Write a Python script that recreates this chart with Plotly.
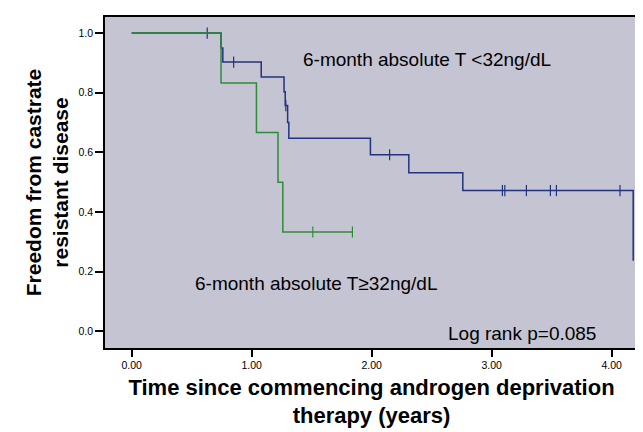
import plotly.graph_objects as go

# Kaplan-Meier steps
low_t = [0, 0.745, 0.76, 1.08, 1.27, 1.28, 1.30, 1.31, 1.99, 2.31, 2.76, 4.18]
low_s = [1.0, 0.95, 0.903, 0.853, 0.803, 0.757, 0.70, 0.647, 0.592, 0.532, 0.472, 0.237]
low_cens_t = [0.63, 0.85, 1.285, 2.15, 3.09, 3.11, 3.29, 3.49, 3.54, 4.07]
low_cens_s = [1.0, 0.903, 0.757, 0.592, 0.472, 0.472, 0.472, 0.472, 0.472, 0.472]

high_t = [0, 0.745, 1.04, 1.22, 1.26, 1.84]
high_s = [1.0, 0.833, 0.667, 0.5, 0.333, 0.333]
high_cens_t = [1.51, 1.84]
high_cens_s = [0.333, 0.333]

x_ticks = [0, 1, 2, 3, 4]
y_ticks = [0, 0.2, 0.4, 0.6, 0.8, 1.0]

blue = "#22337f"
green = "#2e8c36"
font = "Liberation Sans, Arial, sans-serif"

fig = go.Figure()
fig.add_trace(go.Scatter(x=low_t, y=low_s, mode="lines", line=dict(color=blue, width=1.5, shape="hv")))
fig.add_trace(go.Scatter(x=low_cens_t, y=low_cens_s, mode="markers",
                         marker=dict(symbol="line-ns", size=8, line=dict(color=blue, width=1.2))))
fig.add_trace(go.Scatter(x=high_t, y=high_s, mode="lines", line=dict(color=green, width=1.5, shape="hv")))
fig.add_trace(go.Scatter(x=high_cens_t, y=high_cens_s, mode="markers",
                         marker=dict(symbol="line-ns", size=8, line=dict(color=green, width=1.2))))

fig.add_annotation(x=2.464, y=0.911, text="6-month absolute T &lt;32ng/dL", showarrow=False,
                   font=dict(size=19, color="black", family=font))
fig.add_annotation(x=1.54, y=0.161, text="6-month absolute T≥32ng/dL", showarrow=False,
                   font=dict(size=19, color="black", family=font))
fig.add_annotation(x=3.25, y=-0.006, text="Log rank p=0.085", showarrow=False,
                   font=dict(size=19, color="black", family=font))

fig.update_layout(
    width=643, height=432, showlegend=False,
    margin=dict(l=97, r=13, t=7, b=92),
    paper_bgcolor="white", plot_bgcolor="#c5c4d3",
    font=dict(family=font, color="black"),
)
fig.update_xaxes(range=[-0.222, 4.22], tickvals=x_ticks, tickformat=".2f",
                 ticks="outside", ticklen=7, tickwidth=1.5, tickcolor="black", tickfont=dict(size=10.5),
                 showgrid=False, zeroline=False, showline=True, linecolor="black", linewidth=1.5, mirror=True,
                 title=dict(text="<b>Time since commencing androgen deprivation<br>therapy (years)</b>",
                            font=dict(size=22), standoff=9))
fig.update_yaxes(range=[-0.056, 1.054], tickvals=y_ticks, tickformat=".1f",
                 ticks="outside", ticklen=8, tickwidth=1.5, tickcolor="black", tickfont=dict(size=10.5),
                 showgrid=False, zeroline=False, showline=True, linecolor="black", linewidth=1.5, mirror=True,
                 title=dict(text="<b>Freedom from castrate<br>resistant disease</b>",
                            font=dict(size=21), standoff=4))

fig.write_html("out.html")
